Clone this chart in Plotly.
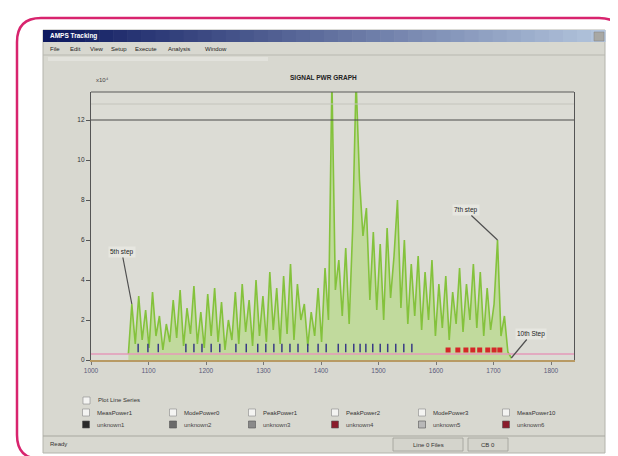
import plotly.graph_objects as go

# ---------------- data ----------------
x_tick_vals = [1000, 1100, 1200, 1300, 1400, 1500, 1600, 1700, 1800]
x_tick_text = ["1000", "1100", "1200", "1300", "1400", "1500", "1600", "1700", "1800"]
y_tick_vals = [0, 2, 4, 6, 8, 10, 12]
y_tick_text = ["0", "2", "4", "6", "8", "10", "12"]

sample_start = 1065
sample_step = 6
power = [
    0.3, 2.8, 0.8, 3.2, 1.0, 2.5, 0.6, 3.4, 1.2, 2.2,
    0.5, 1.8, 0.9, 3.0, 1.1, 3.5, 0.7, 2.6, 1.3, 3.7,
    0.8, 2.4, 0.6, 3.3, 1.2, 3.6, 0.9, 2.9, 0.5, 2.0,
    1.0, 3.4, 0.8, 3.8, 1.4, 3.0, 0.7, 4.0, 1.2, 3.2,
    0.9, 4.4, 1.5, 3.6, 0.8, 4.2, 1.3, 4.8, 1.0, 3.8,
    2.0, 2.8, 0.7, 2.4, 1.2, 3.6, 0.9, 4.6, 2.0, 14.0,
    3.5, 5.0, 2.2, 5.6, 1.8, 6.5, 14.0, 9.0, 6.2, 7.6,
    3.0, 6.4, 2.5, 5.8, 2.0, 6.6, 3.1, 5.2, 8.0, 2.6,
    6.0, 1.8, 4.8, 2.2, 5.2, 1.5, 4.4, 2.0, 5.0, 1.2,
    3.8, 1.6, 4.2, 1.0, 3.4, 1.8, 4.6, 1.4, 3.8, 2.0,
    4.8, 1.6, 4.4, 1.2, 3.6, 1.5, 2.8, 6.0, 1.2, 2.2,
    0.4, 0.1,
]
sample_x = [sample_start + sample_step * i for i in range(len(power))]

blue_events = [1082, 1099, 1117, 1165, 1179, 1193, 1209, 1224, 1252, 1270,
               1290, 1304, 1318, 1332, 1346, 1360, 1377, 1395, 1409, 1430,
               1443, 1457, 1468, 1478, 1490, 1503, 1516, 1530, 1544, 1558]
blue_level = [0.6] * len(blue_events)
red_events = [1621, 1638, 1652, 1664, 1676, 1690, 1701, 1711]
red_level = [0.5] * len(red_events)

threshold = 12.0
pink_level = 0.3

step_labels = [("5th step", 1), ("7th step", 107), ("10th Step", 111)]

legend_row1 = ["MeasPower1", "ModePower0", "PeakPower1", "PeakPower2", "ModePower3", "MeasPower10"]
legend_row2 = ["unknown1", "unknown2", "unknown3", "unknown4", "unknown5", "unknown6"]
legend_colors = ["#2a2a2a", "#6a6a6a", "#8a8a8a", "#8a1c2c", "#b8b8b8", "#8a1c2c"]
menu_items = ["File", "Edit", "View", "Setup", "Execute", "Analysis", "Window"]

# ---------------- layout helpers (pixel -> paper) ----------------
L, R, T, B = 83, 566, 84, 352
W, H = 618, 456


def px(x):
    return (x - L) / (R - L)


def py(y):
    return (B - y) / (B - T)


shapes = []
annotations = []


def rect(x0, y0, x1, y1, fill, line=None, lw=0, layer="below"):
    shapes.append(dict(type="rect", xref="paper", yref="paper",
                       x0=px(x0), x1=px(x1), y0=py(y1), y1=py(y0),
                       fillcolor=fill, line=dict(color=line or fill, width=lw),
                       layer=layer))


def hline(x0, x1, y, color, lw=1, layer="below"):
    shapes.append(dict(type="line", xref="paper", yref="paper",
                       x0=px(x0), x1=px(x1), y0=py(y), y1=py(y),
                       line=dict(color=color, width=lw), layer=layer))


def text(x, y, s, size=7, color="#333", xanchor="left", bold=False):
    annotations.append(dict(xref="paper", yref="paper", x=px(x), y=py(y),
                            text=("<b>%s</b>" % s) if bold else s,
                            showarrow=False, xanchor=xanchor, yanchor="middle",
                            font=dict(size=size, color=color, family="Liberation Sans")))


# window body
rect(35, 22, 597, 445, "#d8d8d0", "#b4b4ac", 1)
# title bar gradient
n = 40
c0 = (14, 26, 96)
c1 = (178, 196, 220)
for i in range(n):
    f = i / (n - 1)
    col = "rgb(%d,%d,%d)" % tuple(int(c0[k] + (c1[k] - c0[k]) * f) for k in range(3))
    xa = 35 + (597 - 35) * i / n
    xb = 35 + (597 - 35) * (i + 1) / n + 0.6
    rect(xa, 22, xb, 34, col)
rect(586, 24, 596, 33, "#a8a8a4", "#808080", 0.5)
text(40, 28, "AMPS Tracking", 6.5, "#ffffff", bold=True)
# menu bar
mx = [40, 60, 80, 101, 125, 158, 195]
for m, xm in zip(menu_items, mx):
    text(xm, 41, m, 6, "#222")
hline(35, 597, 47, "#b8b8b0", 1)
rect(40, 49, 260, 53, "#e2e2dc")
# plot area
rect(L, T, R, B, "#dcdcd5")
# legend rows
rect(75, 389, 82, 396, "#f4f4f2", "#888", 0.6)
text(88, 392, "Plot Line Series", 6, "#333")
cols_x = [78, 165, 244, 327, 414, 498]
for xx, lab, lab2, col in zip(cols_x, legend_row1, legend_row2, legend_colors):
    rect(xx - 3.5, 401, xx + 3.5, 408, "#f4f4f2", "#888", 0.6)
    text(xx + 9, 404.5, lab, 6, "#333")
    rect(xx - 3.5, 413, xx + 3.5, 420, col, "#555", 0.6)
    text(xx + 9, 417, lab2, 6, "#444")
# status bar
hline(35, 597, 428, "#a8a8a0", 1)
rect(385, 430, 455, 443, "#d4d4cc", "#a0a098", 0.8)
rect(460, 430, 500, 443, "#d4d4cc", "#a0a098", 0.8)
text(40, 436, "Ready", 6, "#333")
text(420, 436.5, "Line 0 Files", 6, "#333", xanchor="center")
text(480, 436.5, "CB 0", 6, "#333", xanchor="center")
# plot frame top and threshold
hline(L, R, T, "#5a5a5a", 1.2, layer="above")
shapes.append(dict(type="line", xref="paper", yref="y", x0=0, x1=1,
                   y0=threshold, y1=threshold, line=dict(color="#4a4a4a", width=1.2)))
shapes.append(dict(type="line", xref="paper", yref="y", x0=0, x1=1,
                   y0=threshold + 0.8, y1=threshold + 0.8, line=dict(color="#c4c4bc", width=1)))
shapes.append(dict(type="line", xref="paper", yref="y", x0=0, x1=1,
                   y0=pink_level, y1=pink_level, line=dict(color="#e59ab8", width=1.5)))
# pink rounded frame
x0, y0, x1, y1, r = 9, 10, 615, 451, 24
path = ("M %f,%f L %f,%f Q %f,%f %f,%f L %f,%f Q %f,%f %f,%f L %f,%f Q %f,%f %f,%f "
        "L %f,%f Q %f,%f %f,%f Z") % (
    px(x0 + r), py(y0), px(x1 - r), py(y0), px(x1), py(y0), px(x1), py(y0 + r),
    px(x1), py(y1 - r), px(x1), py(y1), px(x1 - r), py(y1),
    px(x0 + r), py(y1), px(x0), py(y1), px(x0), py(y1 - r),
    px(x0), py(y0 + r), px(x0), py(y0), px(x0 + r), py(y0))
shapes.append(dict(type="path", xref="paper", yref="paper", path=path,
                   line=dict(color="#d8246e", width=2.5), layer="above"))

# title / unit label
text(315, 70, "SIGNAL PWR GRAPH", 6.5, "#222", xanchor="center", bold=True)
text(86, 72, "x10⁴", 6, "#444")

# step annotations
offsets = {"5th step": (-10, -52), "7th step": (-32, -30), "10th Step": (20, -24)}
for lab, idx in step_labels:
    ax, ay = offsets[lab]
    annotations.append(dict(x=sample_x[idx], y=power[idx], xref="x", yref="y",
                            text=lab, showarrow=True, arrowhead=0, arrowwidth=1.2,
                            arrowcolor="#505050", ax=ax, ay=ay, standoff=0,
                            bgcolor="#e6e6e0", borderpad=1,
                            font=dict(size=6.5, color="#222", family="Liberation Sans")))

fig = go.Figure()
fig.add_trace(go.Scatter(x=sample_x, y=power, mode="lines",
                         line=dict(color="#84c23c", width=1.6),
                         fill="tozeroy", fillcolor="rgba(172,216,112,0.55)",
                         hoverinfo="skip"))
fig.add_trace(go.Scatter(x=blue_events, y=blue_level, mode="markers",
                         marker=dict(symbol="line-ns-open", size=6, color="#3a3a86",
                                     line=dict(color="#3a3a86", width=1.5))))
fig.add_trace(go.Scatter(x=red_events, y=red_level, mode="markers",
                         marker=dict(symbol="square", size=5, color="#d42828")))

fig.update_layout(
    width=W, height=H,
    margin=dict(l=L, r=W - R, t=T, b=H - B, pad=0),
    paper_bgcolor="#ffffff", plot_bgcolor="#dcdcd5",
    showlegend=False,
    shapes=shapes, annotations=annotations,
    font=dict(family="Liberation Sans", size=7, color="#333"),
)
fig.update_xaxes(range=[1000, 1840], tickvals=x_tick_vals, ticktext=x_tick_text,
                 showgrid=False, zeroline=False, showline=True,
                 linecolor="#b89a64", linewidth=1.5, ticks="outside", ticklen=3,
                 tickcolor="#777", tickfont=dict(size=6.5, color="#5a5a7a"))
fig.update_yaxes(range=[0, 13.4], tickvals=y_tick_vals, ticktext=y_tick_text,
                 showgrid=False, zeroline=False, showline=True, mirror=True,
                 linecolor="#555", linewidth=1.2, ticks="outside", ticklen=4,
                 tickcolor="#555", tickfont=dict(size=6.5, color="#333"))

fig.write_html("out.html")
